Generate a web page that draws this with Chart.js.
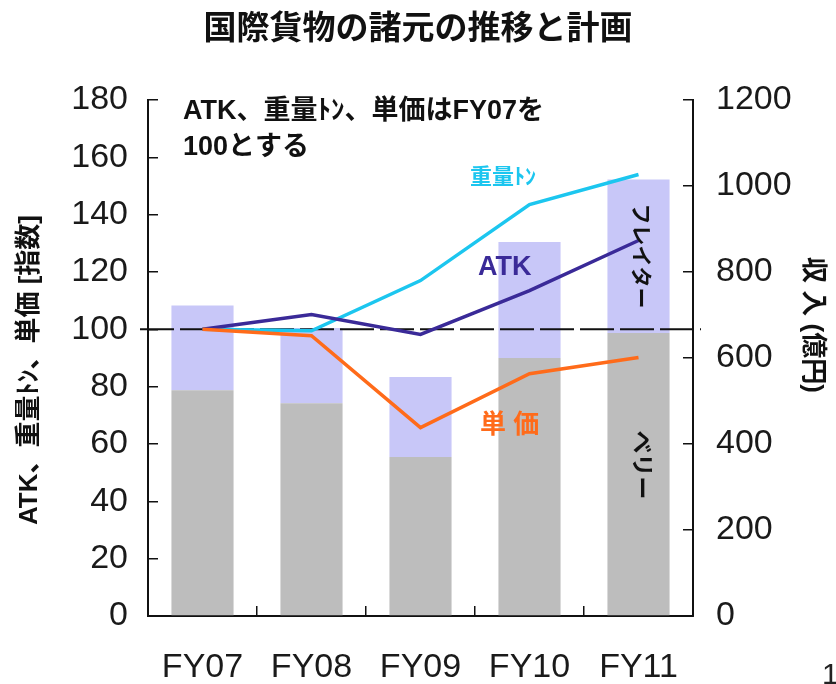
<!DOCTYPE html>
<html><head><meta charset="utf-8">
<script src="https://cdn.jsdelivr.net/npm/chart.js@4"></script>
<style>html,body{margin:0;padding:0;background:#fff;}#wrap{width:836px;height:684px;}</style>
</head><body><div id="wrap"><canvas id="c" width="836" height="684"></canvas></div>
<script>
const categories = ['FY07', 'FY08', 'FY09', 'FY10', 'FY11'];
const bellyRevenue = [525, 495, 370, 600, 658];
const freighterRevenue = [197, 175, 186, 270, 357];
const atkIndex = [100, 105.2, 98.2, 113.5, 131];
const tonnageIndex = [100, 99.5, 117, 143.5, 154];
const unitPriceIndex = [100, 97.8, 65.7, 84.5, 90.2];
const leftAxis = { min: 0, max: 180, step: 20 };
const rightAxis = { min: 0, max: 1200, step: 200 };
const baseIndex = 100;

const JP = '"Liberation Sans","Noto Sans CJK JP",sans-serif';
const C_CYAN = '#1CC6EF', C_ATK = '#3A2A98', C_ORANGE = '#FF6B1A';
const C_LAV = '#C8C7F8', C_GRAY = '#BDBDBD';

function txt(ctx, s, x, y, font, color, align, rot) {
  ctx.save();
  ctx.font = font; ctx.fillStyle = color;
  ctx.textAlign = align || 'left'; ctx.textBaseline = 'middle';
  ctx.translate(x, y);
  if (rot) ctx.rotate(rot);
  ctx.fillText(s, 0, 0);
  ctx.restore();
}

const deco = {
  id: 'deco',
  afterDatasetDraw(chart, args) {
    if (args.index !== 0) return;
    const ctx = chart.ctx, a = chart.chartArea;
    const y = chart.scales.y.getPixelForValue(baseIndex);
    ctx.save();
    ctx.strokeStyle = '#111'; ctx.lineWidth = 2; ctx.setLineDash([34, 6]);
    ctx.beginPath(); ctx.moveTo(a.left - 8, y); ctx.lineTo(a.right + 8, y); ctx.stroke();
    ctx.restore();
  },
  afterDraw(chart) {
    const ctx = chart.ctx;
    txt(ctx, '国際貨物の諸元の推移と計画', 418, 30, 'bold 33px ' + JP, '#111', 'center');
    txt(ctx, 'ATK、重量ﾄﾝ、単価はFY07を', 183, 112, 'bold 27px ' + JP, '#111');
    txt(ctx, '100とする', 183, 148, 'bold 27px ' + JP, '#111');
    txt(ctx, '重量ﾄﾝ', 470, 178, 'bold 22px ' + JP, C_CYAN);
    txt(ctx, 'ATK', 478, 268, 'bold 27px ' + JP, C_ATK);
    txt(ctx, '単 価', 480, 426, 'bold 26px ' + JP, C_ORANGE);
    txt(ctx, 'フレイター', 640, 256, 'bold 21px ' + JP, '#111', 'center', Math.PI / 2);
    txt(ctx, 'ベリー', 640, 465, 'bold 23px ' + JP, '#111', 'center', Math.PI / 2);
    txt(ctx, 'ATK、重量ﾄﾝ、単価 [指数]', 30, 370, 'bold 26px ' + JP, '#111', 'center', -Math.PI / 2);
    txt(ctx, '収 入 (億円)', 812, 325, 'bold 26px ' + JP, '#111', 'center', Math.PI / 2);
    txt(ctx, '1', 822, 676, '30px ' + JP, '#222', 'left');
  }
};

const tickFont = { family: JP, size: 34 };
const plain = v => String(v);
new Chart(document.getElementById('c'), {
  type: 'bar',
  data: {
    labels: categories,
    datasets: [
      { type: 'bar', label: 'ベリー', data: bellyRevenue, yAxisID: 'y2', backgroundColor: C_GRAY, stack: 'rev', order: 10,
        barPercentage: 0.57, categoryPercentage: 1 },
      { type: 'bar', label: 'フレイター', data: freighterRevenue, yAxisID: 'y2', backgroundColor: C_LAV, stack: 'rev', order: 10,
        barPercentage: 0.57, categoryPercentage: 1 },
      { type: 'line', label: '重量ﾄﾝ', data: tonnageIndex, yAxisID: 'y', borderColor: C_CYAN, borderWidth: 3.5, pointRadius: 0, tension: 0, order: 3 },
      { type: 'line', label: 'ATK', data: atkIndex, yAxisID: 'y', borderColor: C_ATK, borderWidth: 3.5, pointRadius: 0, tension: 0, order: 2 },
      { type: 'line', label: '単価', data: unitPriceIndex, yAxisID: 'y', borderColor: C_ORANGE, borderWidth: 3.5, pointRadius: 0, tension: 0, order: 1 }
    ]
  },
  options: {
    responsive: false, animation: false, devicePixelRatio: 1,
    layout: { padding: { top: 100, left: 0, right: 0, bottom: 0 } },
    plugins: { legend: { display: false }, tooltip: { enabled: false }, title: { display: false } },
    scales: {
      x: {
        stacked: true,
        grid: { display: true, drawOnChartArea: false, drawTicks: true, tickLength: -10, color: '#111', lineWidth: 1.5 },
        border: { display: true, color: '#111', width: 2 },
        ticks: { font: tickFont, color: '#1a1a1a', padding: 41, maxRotation: 0 },
        afterFit(s) { s.height = 68; }
      },
      y: {
        position: 'left', min: leftAxis.min, max: leftAxis.max,
        grid: { display: true, drawOnChartArea: false, drawTicks: true, tickLength: -10, color: '#111', lineWidth: 1.5 },
        border: { display: true, color: '#111', width: 2 },
        ticks: { stepSize: leftAxis.step, font: tickFont, color: '#1a1a1a', padding: 30, callback: plain },
        afterFit(s) { s.width = 148; }
      },
      y2: {
        position: 'right', stacked: true, min: rightAxis.min, max: rightAxis.max,
        grid: { display: true, drawOnChartArea: false, drawTicks: true, tickLength: -10, color: '#111', lineWidth: 1.5 },
        border: { display: true, color: '#111', width: 2 },
        ticks: { stepSize: rightAxis.step, font: tickFont, color: '#1a1a1a', padding: 33, callback: plain },
        afterFit(s) { s.width = 143; }
      }
    }
  },
  plugins: [deco]
});
</script></body></html>
